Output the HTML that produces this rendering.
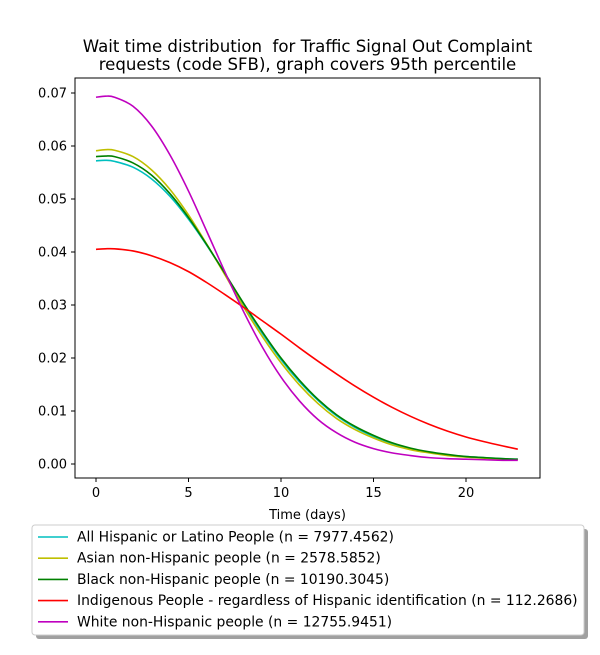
<!DOCTYPE html>
<html><head><meta charset="utf-8"><style>
body{margin:0;background:#fff;}
svg{font-family:"DejaVu Sans","Liberation Sans",sans-serif;}
text{white-space:pre;}
</style></head><body>
<svg width="600" height="650" viewBox="0 0 600 650" xmlns="http://www.w3.org/2000/svg">
<rect width="600" height="650" fill="#fff"/>
<text x="307.5" y="52" text-anchor="middle" font-size="16.6">Wait time distribution  for Traffic Signal Out Complaint</text>
<text x="307.5" y="70" text-anchor="middle" font-size="16.6">requests (code SFB), graph covers 95th percentile</text>
<g id="plot"></g>
<rect x="75" y="78" width="465" height="400" fill="none" stroke="#000" stroke-width="1"/>
<text x="307.5" y="519" text-anchor="middle" font-size="13">Time (days)</text>
<rect x="36" y="529" width="552" height="110" rx="3" fill="#777" opacity="0.7"/>
<rect x="32" y="525" width="552" height="110" rx="3" fill="#fff" stroke="#ccc"/>
<g id="legend"></g>
</svg>
<script>
const xs=[0,0.5,1,2,3,4,5,6,7,8,9,10,11,12,13,14,15,16,17,18,19,20,21,22,22.8];
const hispanic=[0.0572,0.0573,0.0571,0.0560,0.0538,0.0505,0.0462,0.0412,0.0357,0.0300,0.0246,0.0197,0.0155,0.0120,0.0091,0.0069,0.0052,0.0039,0.0029,0.0022,0.0017,0.0014,0.0012,0.0010,0.0009];
const asian=[0.0591,0.0593,0.0592,0.0580,0.0555,0.0518,0.0470,0.0414,0.0355,0.0295,0.0240,0.0191,0.0149,0.0114,0.0086,0.0065,0.0049,0.0036,0.0027,0.0021,0.0016,0.0013,0.0011,0.0009,0.0008];
const black=[0.0580,0.0581,0.0580,0.0568,0.0545,0.0510,0.0465,0.0413,0.0358,0.0302,0.0249,0.0200,0.0158,0.0122,0.0093,0.0071,0.0054,0.0040,0.0030,0.0023,0.0018,0.0014,0.0012,0.0010,0.0009];
const indigenous=[0.0405,0.0406,0.0406,0.0402,0.0393,0.0380,0.0363,0.0342,0.0319,0.0295,0.0270,0.0245,0.0219,0.0194,0.0170,0.0147,0.0126,0.0107,0.0090,0.0075,0.0062,0.0051,0.0042,0.0034,0.0028];
const white=[0.0692,0.0694,0.0692,0.0675,0.0638,0.0583,0.0515,0.0438,0.0360,0.0286,0.0220,0.0164,0.0119,0.0084,0.0059,0.0041,0.0029,0.0021,0.0016,0.0012,0.0010,0.0009,0.0008,0.0007,0.0007];
const seriesNames=["All Hispanic or Latino People (n = 7977.4562)","Asian non-Hispanic people (n = 2578.5852)","Black non-Hispanic people (n = 10190.3045)","Indigenous People - regardless of Hispanic identification (n = 112.2686)","White non-Hispanic people (n = 12755.9451)"];
const seriesColors=["#00bfbf","#bfbf00","#008000","#ff0000","#bf00bf"];
const seriesData=[hispanic,asian,black,indigenous,white];
const xTicks=[0,5,10,15,20];
const yTicks=[0,0.01,0.02,0.03,0.04,0.05,0.06,0.07];
const NS="http://www.w3.org/2000/svg";
const X=v=>96+v*18.5, Y=v=>464-v*(371/0.07);
const plot=document.getElementById('plot');
function mk(t,a){const e=document.createElementNS(NS,t);for(const k in a)e.setAttribute(k,a[k]);return e;}
xTicks.forEach(t=>{
 const l=mk('line',{x1:X(t),x2:X(t),y1:478,y2:482,stroke:'#000'});
 
 
 plot.appendChild(l);
 const tx=mk('text',{x:X(t),y:497,'text-anchor':'middle','font-size':'13'});tx.textContent=t;
 
 
 plot.appendChild(tx);
});
yTicks.forEach(t=>{
 const l=mk('line',{x1:71,x2:75,y1:Y(t),y2:Y(t),stroke:'#000'});
 
 
 plot.appendChild(l);
 const tx=mk('text',{x:67,y:Y(t)+4.5,'text-anchor':'end','font-size':'13'});tx.textContent=t.toFixed(2);
 
 
 plot.appendChild(tx);
});
seriesData.forEach((d,i)=>{
 const pts=xs.map((x,j)=>[X(x),Y(d[j])]);
 let p='M'+pts[0][0]+','+pts[0][1];
 for(let j=0;j<pts.length-1;j++){
  const p0=pts[Math.max(0,j-1)],p1=pts[j],p2=pts[j+1],p3=pts[Math.min(pts.length-1,j+2)];
  const c1=[p1[0]+(p2[0]-p0[0])/6,p1[1]+(p2[1]-p0[1])/6],c2=[p2[0]-(p3[0]-p1[0])/6,p2[1]-(p3[1]-p1[1])/6];
  p+=` C${c1[0]},${c1[1]} ${c2[0]},${c2[1]} ${p2[0]},${p2[1]}`;
 }
 const path=mk('path',{d:p,fill:'none',stroke:seriesColors[i],'stroke-width':'1.6'});
 
 
 plot.appendChild(path);
});
const lg=document.getElementById('legend');
seriesNames.forEach((n,i)=>{
 const y=537+i*21.2;
 const l=mk('line',{x1:38,x2:68,y1:y,y2:y,stroke:seriesColors[i],'stroke-width':'1.6'});
 
 
 lg.appendChild(l);
 const t=mk('text',{x:77,y:y+4.5,'font-size':'13.9'});t.textContent=n;
 
 
 lg.appendChild(t);
});
</script>
</body></html>
